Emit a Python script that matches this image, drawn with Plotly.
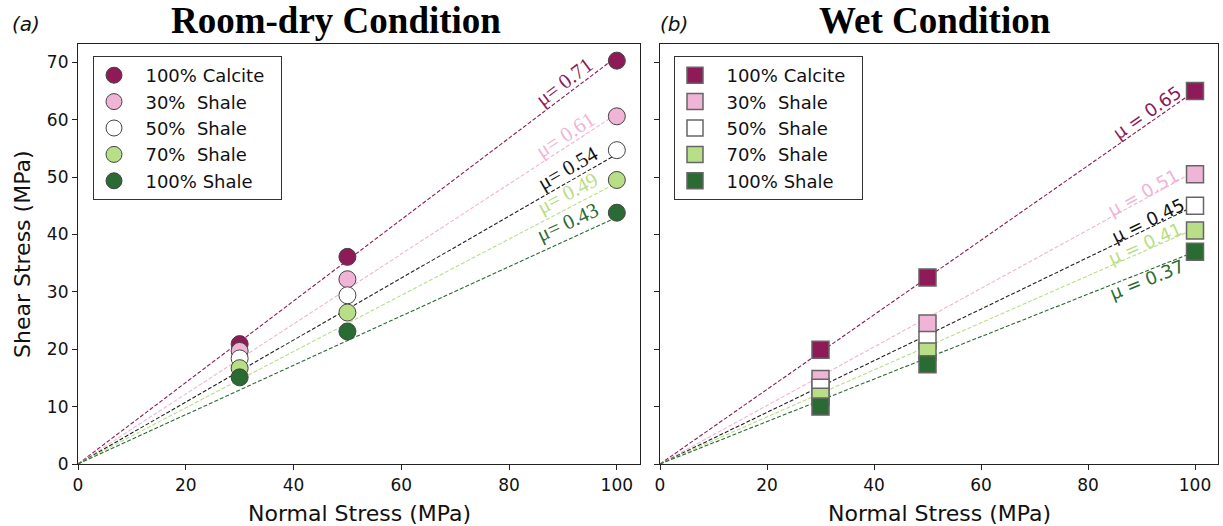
import math
import plotly.graph_objects as go

# ---- data ----
normal_stress = [30, 50, 100]
series_names = ["100% Calcite", "30%\u00a0 Shale", "50%\u00a0 Shale", "70%\u00a0 Shale", "100% Shale"]
colors = ["#8e1a57", "#f0b4d6", "#ffffff", "#b8de86", "#2a6a33"]
label_colors = ["#8e1a57", "#f0b4d6", "#111111", "#b8de86", "#2a6a33"]

dry_calcite = [20.9, 36.1, 70.3]
dry_shale30 = [19.7, 32.2, 60.6]
dry_shale50 = [18.4, 29.4, 54.7]
dry_shale70 = [16.7, 26.4, 49.5]
dry_shale100 = [15.1, 23.1, 43.8]
dry_series = [dry_calcite, dry_shale30, dry_shale50, dry_shale70, dry_shale100]
dry_mu = [0.71, 0.61, 0.54, 0.49, 0.43]

wet_calcite = [19.9, 32.5, 65.0]
wet_shale30 = [14.8, 24.5, 50.5]
wet_shale50 = [13.3, 21.6, 45.0]
wet_shale70 = [11.7, 19.6, 40.7]
wet_shale100 = [10.0, 17.4, 37.0]
wet_series = [wet_calcite, wet_shale30, wet_shale50, wet_shale70, wet_shale100]
wet_mu = [0.65, 0.51, 0.45, 0.41, 0.37]

x_ticks = [0, 20, 40, 60, 80, 100]
y_ticks = [0, 10, 20, 30, 40, 50, 60, 70]
fit_x = [0, 100]

# ---- layout constants ----
W, H = 1223, 526
X_RANGE = [0, 104.3]
Y_RANGE = [0, 73.2]
dom_x1 = [78 / W, 640 / W]
dom_x2 = [660 / W, 1218 / W]
dom_y = [1 - 464 / H, 1 - 44 / H]

dry_label_pos = [(90.2, 66.5), (90.4, 57.3), (90.9, 51.6), (90.9, 47.2), (90.9, 42.2)]
wet_label_pos = [(91.0, 61.3), (90.3, 47.4), (91.2, 42.5), (90.6, 38.5), (91.0, 32.1)]

PAD = "\u00a0\u00a0"
TAIL = "\u00a0\u00a0"

fig = go.Figure()

def px_per_unit(dom):
    return (dom[1] - dom[0]) * W / (X_RANGE[1] - X_RANGE[0])

ypx = (dom_y[1] - dom_y[0]) * H / (Y_RANGE[1] - Y_RANGE[0])

for panel, (series, mus, xa, ya, sym, legend, edge) in enumerate([
    (dry_series, dry_mu, "x", "y", "circle", "legend", "#444444"),
    (wet_series, wet_mu, "x2", "y2", "square", "legend2", "#666666"),
]):
    # fit lines
    for i, mu in enumerate(mus):
        fig.add_trace(go.Scatter(
            x=fit_x, y=[mu * v for v in fit_x], mode="lines",
            line=dict(color=label_colors[i] if i != 2 else "#222222", width=1.1, dash="4px,2px"),
            xaxis=xa, yaxis=ya, showlegend=False, hoverinfo="skip"))
    for i, vals in enumerate(series):
        fig.add_trace(go.Scatter(
            x=normal_stress, y=vals, mode="markers", name=PAD + series_names[i] + TAIL,
            marker=dict(symbol=sym, size=17, color=colors[i],
                        line=dict(color=edge, width=1 if sym == "circle" else 1.5)),
            xaxis=xa, yaxis=ya, legend=legend))

# mu labels
for panel, (mus, pos, xref, yref, dom, fam, fsize, fmt) in enumerate([
    (dry_mu, dry_label_pos, "x", "y", dom_x1, "Liberation Serif", 21, "\u03bc= {:.2f}"),
    (wet_mu, wet_label_pos, "x2", "y2", dom_x2, "DejaVu Sans", 18, "\u03bc = {:.2f}"),
]):
    xpx = px_per_unit(dom)
    for i, mu in enumerate(mus):
        ang = math.degrees(math.atan(mu * ypx / xpx))
        fig.add_annotation(x=pos[i][0], y=pos[i][1], xref=xref, yref=yref,
                           xanchor="center", yanchor="middle",
                           text=fmt.format(mu), showarrow=False, textangle=-ang,
                           font=dict(family=fam, size=fsize, color=label_colors[i]))

axis_common = dict(range=X_RANGE, tickvals=x_ticks, showline=True, linecolor="#222", linewidth=1.2,
                   mirror=True, ticks="outside", ticklen=5, tickcolor="#222", showgrid=False,
                   zeroline=False, automargin=False,
                   tickfont=dict(family="DejaVu Sans", size=17, color="#111"))
yaxis_common = dict(range=Y_RANGE, tickvals=y_ticks, showline=True, linecolor="#222", linewidth=1.2,
                    mirror=True, ticks="outside", ticklen=5, tickcolor="#222", showgrid=False,
                    zeroline=False, automargin=False,
                    tickfont=dict(family="DejaVu Sans", size=17, color="#111"), domain=dom_y)

legend_common = dict(bgcolor="white", bordercolor="#333", borderwidth=1,
                     font=dict(family="DejaVu Sans", size=18, color="#111"),
                     xanchor="left", yanchor="top", tracegroupgap=0, itemsizing="trace")

fig.update_layout(
    width=W, height=H, margin=dict(l=0, r=0, t=0, b=0, autoexpand=False),
    paper_bgcolor="white", plot_bgcolor="white",
    xaxis=dict(axis_common, domain=dom_x1, anchor="y"),
    yaxis=dict(yaxis_common, anchor="x"),
    xaxis2=dict(axis_common, domain=dom_x2, anchor="y2"),
    yaxis2=dict(yaxis_common, anchor="x2", showticklabels=False),
    legend=dict(legend_common, x=93 / W, y=1 - 56 / H),
    legend2=dict(legend_common, x=674 / W, y=1 - 56 / H),
)

def paper_text(xp, yp, text, font, angle=0):
    fig.add_annotation(x=xp / W, y=1 - yp / H, xref="paper", yref="paper", showarrow=False,
                       xanchor="center", yanchor="middle", textangle=angle, text=text, font=font)

# titles and axis labels
paper_text(336, 21, "<b>Room-dry Condition</b>", dict(family="Liberation Serif", size=37, color="#000"))
paper_text(935, 21, "<b>Wet Condition</b>", dict(family="Liberation Serif", size=37, color="#000"))
paper_text(26, 24, "<i>(a)</i>", dict(family="DejaVu Sans", size=20, color="#111"))
paper_text(674, 24, "<i>(b)</i>", dict(family="DejaVu Sans", size=20, color="#111"))
paper_text(359, 513, "Normal Stress (MPa)", dict(family="DejaVu Sans", size=22, color="#111"))
paper_text(939, 513, "Normal Stress (MPa)", dict(family="DejaVu Sans", size=22, color="#111"))
paper_text(22, 255, "Shear Stress (MPa)", dict(family="DejaVu Sans", size=22, color="#111"), angle=-90)

fig.write_html("out.html")
